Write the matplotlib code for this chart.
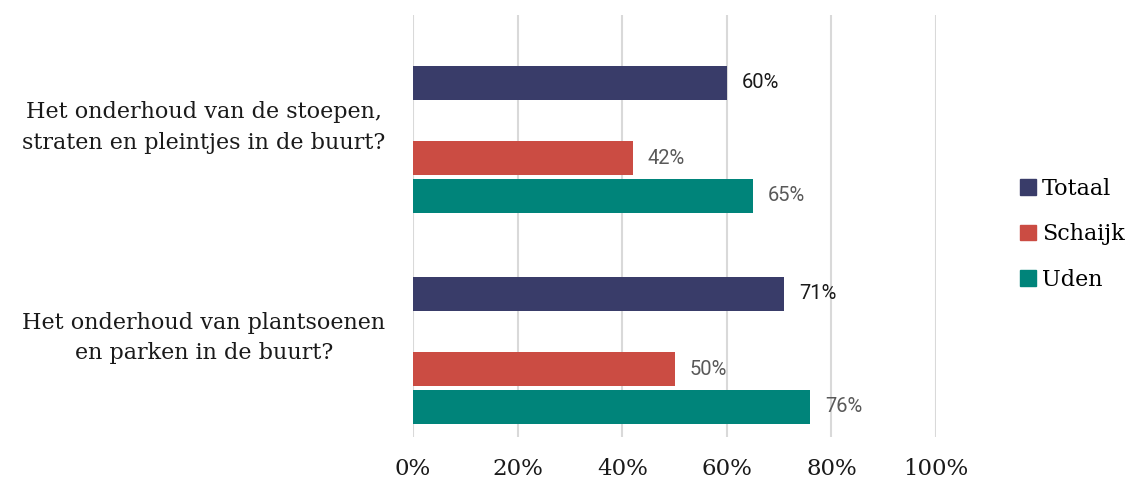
import matplotlib
matplotlib.use("Agg")
import matplotlib.pyplot as plt
from matplotlib.patches import Patch
import numpy as np

categories = ["Het onderhoud van de stoepen,\nstraten en pleintjes in de buurt?",
              "Het onderhoud van plantsoenen\nen parken in de buurt?"]
series = ["Totaal", "Schaijk", "Uden"]
totaal = [60, 71]
schaijk = [42, 50]
uden = [65, 76]
xticks = [0, 20, 40, 60, 80, 100]
xtick_labels = ["0%", "20%", "40%", "60%", "80%", "100%"]

colors = {"Totaal": "#393C69", "Schaijk": "#CB4C43", "Uden": "#00847A"}
label_colors = {"Totaal": "#1a1a1a", "Schaijk": "#595959", "Uden": "#595959"}

fig = plt.figure(figsize=(11.31, 4.78), dpi=100)
ax = fig.add_axes([413/1131, 41/478, 523/1131, 422/478])

slot = 37.5/210
bh = 34/210
offsets = {"Totaal": -1*slot, "Schaijk": 1*slot, "Uden": 2*slot}
data = {"Totaal": totaal, "Schaijk": schaijk, "Uden": uden}
y = np.arange(len(categories))
for s in series:
    ax.barh(y + offsets[s], data[s], height=bh, color=colors[s], zorder=3)
    for yi, v in zip(y, data[s]):
        ax.text(v + 2.9, yi + offsets[s], f"{v}%", va="center", ha="left",
                fontsize=14.5, family="Roboto", color=label_colors[s])

ax.set_xlim(0, 100)
ax.set_ylim(1.5, -0.5)
ax.set_xticks(xticks)
ax.set_xticklabels(xtick_labels, family="DejaVu Serif", fontsize=16.5, color="#1a1a1a")
ax.set_yticks(y)
ax.set_yticklabels(categories, family="DejaVu Serif", fontsize=16, color="#1a1a1a",
                   multialignment="center", linespacing=1.5)
ax.tick_params(axis="both", length=0)
ax.tick_params(axis="y", pad=20)
ax.tick_params(axis="x", pad=15)
ax.grid(axis="x", color="#D9D9D9", linewidth=1.5, zorder=0)
for sp in ax.spines.values():
    sp.set_visible(False)

handles = [Patch(color=colors[s], label=s) for s in series]
leg = fig.legend(handles=handles, loc="center left", bbox_to_anchor=(1020/1131, 0.51),
                 frameon=False, prop={"family": "DejaVu Serif", "size": 16},
                 borderaxespad=0, borderpad=0,
                 handlelength=0.7, handleheight=0.7, handletextpad=0.3, labelspacing=1.05)

fig.savefig("out.png", dpi=100)
